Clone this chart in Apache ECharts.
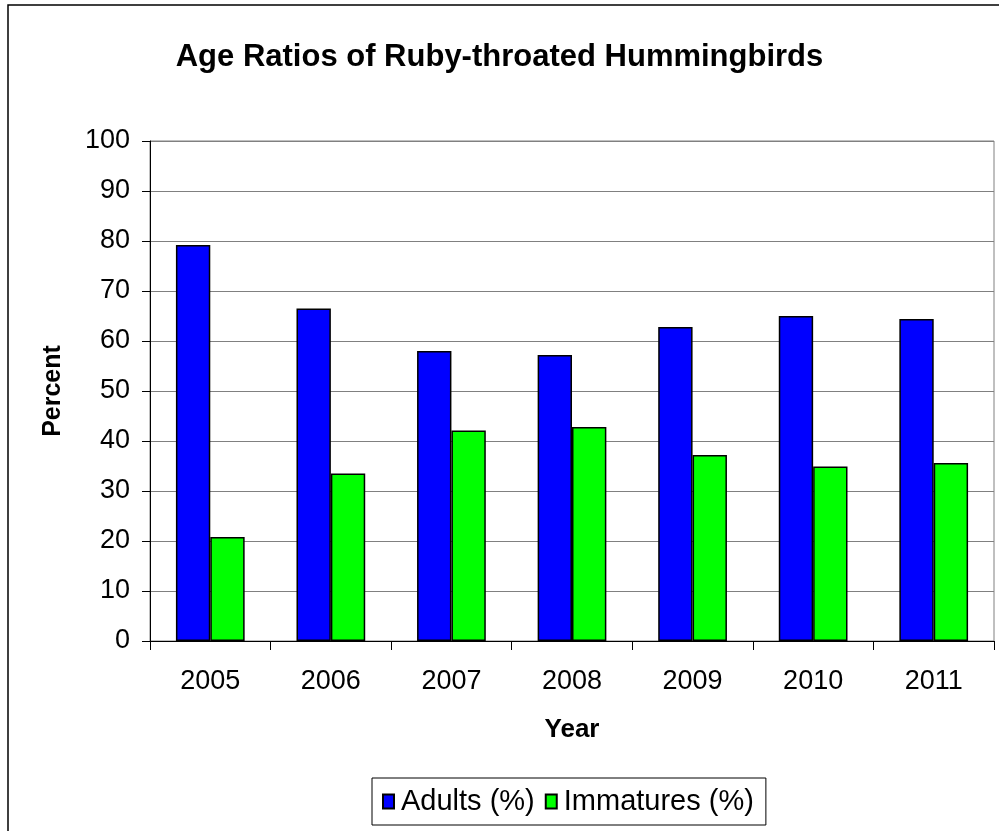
<!DOCTYPE html>
<html>
<head>
<meta charset="utf-8">
<script src="https://cdn.jsdelivr.net/npm/echarts@6/dist/echarts.min.js"></script>
<style>
  html, body { margin: 0; padding: 0; background: #fff; }
  #chart { width: 999px; height: 831px; }
</style>
</head>
<body>
<div id="chart"></div>
<script>
const years = ['2005', '2006', '2007', '2008', '2009', '2010', '2011']
const adults = [79.2, 66.5, 58.0, 57.2, 62.8, 65.0, 64.4]
const immatures = [20.8, 33.5, 42.1, 42.8, 37.2, 34.9, 35.6]

const font = 'Liberation Sans, Arial, sans-serif'
const chart = echarts.init(document.getElementById('chart'))

chart.setOption({
  backgroundColor: '#fff',
  animation: false,
  textStyle: { fontFamily: font, color: '#000' },
  title: {
    text: 'Age Ratios of Ruby-throated Hummingbirds',
    left: 'center',
    top: 37,
    textStyle: { fontFamily: font, fontSize: 31, fontWeight: 'bold', color: '#000' }
  },
  graphic: [{
    type: 'rect',
    shape: { x: 8, y: 5, width: 1010, height: 840 },
    style: { fill: null, stroke: '#000', lineWidth: 1.5 },
    silent: true
  }],
  legend: {
    bottom: 6,
    left: 372,
    padding: [9, 12, 9, 10],
    icon: 'rect',
    itemWidth: 11,
    itemHeight: 14,
    itemGap: 10,
    borderColor: '#000',
    borderWidth: 1,
    textStyle: { fontFamily: font, fontSize: 29, color: '#000', padding: [0, 0, 0, 2] },
    data: ['Adults (%)', 'Immatures (%)']
  },
  grid: { left: 150, top: 141, right: 5, bottom: 190, show: true, borderColor: '#808080', borderWidth: 1 },
  xAxis: {
    type: 'category',
    data: years,
    name: 'Year',
    nameLocation: 'middle',
    nameGap: 76,
    nameTextStyle: { fontFamily: font, fontSize: 26, fontWeight: 'bold', color: '#000' },
    axisLine: { lineStyle: { color: '#000', width: 1 } },
    axisTick: { show: true, length: 9, lineStyle: { color: '#000' } },
    axisLabel: { fontFamily: font, fontSize: 27, color: '#000', margin: 27 }
  },
  yAxis: {
    type: 'value',
    min: 0,
    max: 100,
    interval: 10,
    name: 'Percent',
    nameLocation: 'middle',
    nameGap: 84,
    nameTextStyle: { fontFamily: font, fontSize: 25, fontWeight: 'bold', color: '#000' },
    axisLine: { show: true, lineStyle: { color: '#000', width: 1 } },
    axisTick: { show: true, length: 8, lineStyle: { color: '#000' } },
    axisLabel: { fontFamily: font, fontSize: 27, color: '#000', margin: 20 },
    splitLine: { lineStyle: { color: '#808080', width: 1 } }
  },
  series: [
    {
      name: 'Adults (%)',
      type: 'bar',
      data: adults,
      barGap: '0%',
      barCategoryGap: '43%',
      itemStyle: { color: '#0000ff', borderColor: '#000', borderWidth: 1.5 }
    },
    {
      name: 'Immatures (%)',
      type: 'bar',
      data: immatures,
      itemStyle: { color: '#00ff00', borderColor: '#000', borderWidth: 1.5 }
    }
  ]
})
</script>
</body>
</html>
